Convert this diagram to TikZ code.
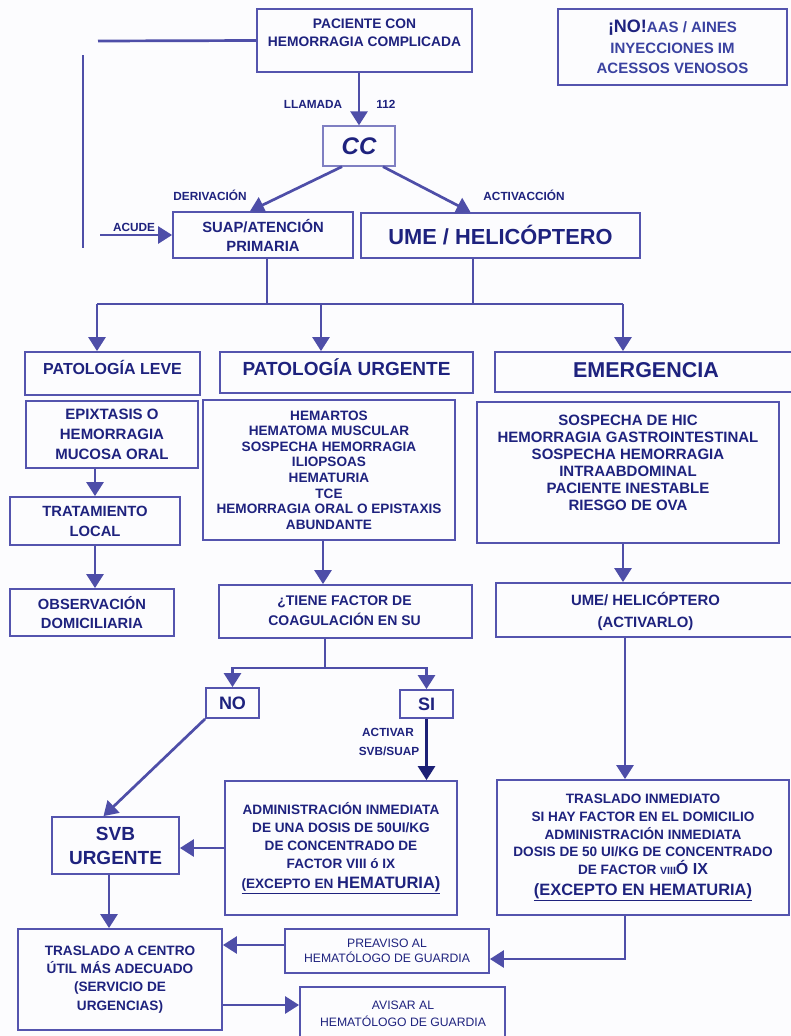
\documentclass[tikz,border=0pt]{standalone}
\usepackage{fontspec}
\setmainfont{Liberation Sans}
\usetikzlibrary{arrows.meta}

\definecolor{ink}{RGB}{30,34,126}
\definecolor{softink}{RGB}{58,66,160}
\definecolor{frame}{RGB}{84,84,174}
\definecolor{wire}{RGB}{78,78,168}
\definecolor{darkwire}{RGB}{28,32,118}
\definecolor{paper}{RGB}{252,252,254}

\newcommand{\fs}[2]{\fontsize{#1}{#2}\selectfont}

\tikzset{
  box/.style={draw=frame, line width=1.8pt, inner sep=0pt, align=center,
              text=ink, font=\bfseries},
  txt/.style={inner sep=0pt, align=center, text=ink, font=\bfseries},
  lbl/.style={inner sep=0pt, text=ink, font=\bfseries\fs{11.8}{14}},
  ln/.style={draw=wire, line width=2.7pt},
  arr/.style={ln, -{Triangle[length=14pt,width=17pt]}},
  darr/.style={draw=darkwire, line width=2.7pt, -{Triangle[length=14pt,width=17pt]}},
}

\begin{document}
\begin{tikzpicture}[x=1pt,y=-1pt]
\fill[paper] (0,0) rectangle (791,1036);
\useasboundingbox (0,0) rectangle (791,1036);
\clip (0,0) rectangle (791,1036);

% ---- top row ----
\node[box, minimum width=215pt, minimum height=63pt] (pac) at (364.5,40.5) {};
\node[txt, font=\bfseries\fs{13.8}{18}] (pact) at (364.5,33) {PACIENTE CON\\HEMORRAGIA COMPLICADA};

\node[box, minimum width=229pt, minimum height=76pt, text=softink, font=\bfseries\fs{15}{20.5}] (nob) at (672.5,47)
  {{\color{ink}\fs{18}{20.5}¡NO!}AAS / AINES\\INYECCIONES IM\\ACESSOS VENOSOS};

\node[box, draw=frame!75, line width=1.3pt, minimum width=72pt, minimum height=40pt,
      font=\bfseries\itshape\fs{24}{26}] (cc) at (359,146) {CC};

\node[box, minimum width=180pt, minimum height=46pt, font=\bfseries\fs{14.8}{19}] (suap) at (263,235)
  {SUAP/ATENCIÓN\\PRIMARIA};
\node[box, minimum width=279pt, minimum height=45pt, font=\bfseries\fs{21.8}{24}] (ume) at (500.5,235.5)
  {UME / HELICÓPTERO};

% ---- labels on the top connectors ----
\node[lbl] (llam) at (313,104) {LLAMADA};
\node[lbl] (num) at (386,104) {112};
\node[lbl] (deriv) at (210,195) {DERIVACIÓN};
\node[lbl] (activ) at (524,195) {ACTIVACCIÓN};
\node[lbl] (acude) at (134,227) {ACUDE};

% ---- second level ----
\node[box, minimum width=175pt, minimum height=43pt] (leve) at (112.5,373.5) {};
\node[txt, font=\bfseries\fs{16}{18}] (levet) at (112.5,367) {PATOLOGÍA LEVE};
\node[box, minimum width=253pt, minimum height=41pt] (urg) at (346.5,372.5) {};
\node[txt, font=\bfseries\fs{19}{21}] (urgt) at (346.5,367) {PATOLOGÍA URGENTE};
\node[box, minimum width=300pt, minimum height=40pt] (emer) at (645,372) {};
\node[txt, font=\bfseries\fs{21.5}{23}] (emert) at (646,370) {EMERGENCIA};

\node[box, minimum width=172pt, minimum height=67pt, font=\bfseries\fs{15}{20}] (epi) at (112,434.5)
  {EPIXTASIS O\\HEMORRAGIA\\MUCOSA ORAL};
\node[box, minimum width=252pt, minimum height=140pt, font=\bfseries\fs{13.6}{15.6}] (hem) at (329,470)
  {HEMARTOS\\HEMATOMA MUSCULAR\\SOSPECHA HEMORRAGIA\\ILIOPSOAS\\HEMATURIA\\TCE\\HEMORRAGIA ORAL O EPISTAXIS\\ABUNDANTE};
\node[box, minimum width=302pt, minimum height=141pt] (sosp) at (628,472.5) {};
\node[txt, font=\bfseries\fs{15}{17}] (sospt) at (628,462.5)
  {SOSPECHA DE HIC\\HEMORRAGIA GASTROINTESTINAL\\SOSPECHA HEMORRAGIA\\INTRAABDOMINAL\\PACIENTE INESTABLE\\RIESGO DE OVA};

\node[box, minimum width=170pt, minimum height=48pt, font=\bfseries\fs{14.8}{20}] (trat) at (95,521)
  {TRATAMIENTO\\LOCAL};
\node[box, minimum width=164pt, minimum height=47pt, font=\bfseries\fs{14.7}{19}] (obs) at (92,612.5)
  {OBSERVACIÓN\\DOMICILIARIA};
\node[box, minimum width=253pt, minimum height=53pt] (tiene) at (345.5,611.5) {};
\node[txt, font=\bfseries\fs{14}{20}] (tienet) at (344.5,610.5) {¿TIENE FACTOR DE\\COAGULACIÓN EN SU};
\node[box, minimum width=296pt, minimum height=54pt] (umeh) at (644,610) {};
\node[txt, font=\bfseries\fs{14.9}{22}] (umeht) at (645.5,611) {UME/ HELICÓPTERO\\(ACTIVARLO)};

% ---- decision ----
\node[box, minimum width=53pt, minimum height=30pt, font=\bfseries\fs{18}{20}] (no) at (232.5,703) {NO};
\node[box, minimum width=53pt, minimum height=28pt, font=\bfseries\fs{18}{20}] (si) at (426.5,704) {SI};
\node[lbl] (actv) at (388,732) {ACTIVAR};
\node[lbl] (svbs) at (389,751) {SVB/SUAP};

\node[box, minimum width=232pt, minimum height=134pt, font=\bfseries\fs{13.6}{18}] (adm) at (341,848)
  {ADMINISTRACIÓN INMEDIATA\\DE UNA DOSIS DE 50UI/KG\\DE CONCENTRADO DE\\FACTOR VIII ó IX\\[2pt]
   \underline{(EXCEPTO EN {\fs{16.5}{18}HEMATURIA)}}};
\node[box, minimum width=127pt, minimum height=57pt, font=\bfseries\fs{19}{24}] (svb) at (115.5,845.5)
  {SVB\\URGENTE};
\node[box, minimum width=292pt, minimum height=135pt, font=\bfseries\fs{13.6}{17.8}] (tras) at (643,847.5)
  {TRASLADO INMEDIATO\\SI HAY FACTOR EN EL DOMICILIO\\ADMINISTRACIÓN INMEDIATA\\DOSIS DE 50 UI/KG DE CONCENTRADO\\
   DE FACTOR {\fs{10.5}{12}VIII}{\fs{16}{18}Ó IX}\\[3pt]
   {\fs{16.4}{18}\underline{(EXCEPTO EN HEMATURIA)}}};

% ---- bottom ----
\node[box, minimum width=204pt, minimum height=44pt, font=\fs{12.2}{15}] (prea) at (387,951)
  {PREAVISO AL\\HEMATÓLOGO DE GUARDIA};
\node[box, minimum width=204pt, minimum height=101pt, font=\bfseries\fs{13.6}{18.3}] (tcen) at (120,979.5)
  {TRASLADO A CENTRO\\ÚTIL MÁS ADECUADO\\(SERVICIO DE\\URGENCIAS)};
\node[box, minimum width=205pt, minimum height=60pt] (avis) at (402.5,1017) {};
\node[txt, font=\fs{12.2}{17}] (avist) at (403,1013.5) {AVISAR AL\\HEMATÓLOGO DE GUARDIA};

% ---- free ends of the side bracket ----
\coordinate (lt) at (98,41);
\coordinate (vt) at (83,55);
\coordinate (vb) at (83,248);
\coordinate (ac) at (100,235);

% ---- connector helper points ----
\coordinate (ccl) at ([xshift=-17pt]cc.south);
\coordinate (ccr) at ([xshift=24pt]cc.south);
\coordinate (sul) at ([xshift=-13pt]suap.north);
\coordinate (umr) at ([xshift=-30pt]ume.north);
\coordinate (jl) at (97,304);
\coordinate (jm) at (321,304);
\coordinate (jr) at (623,304);
\coordinate (s1) at ([xshift=4pt]suap.south);
\coordinate (u1) at ([xshift=-27.5pt]ume.south);
\coordinate (h1) at ([xshift=-6pt]hem.south);
\coordinate (e1) at ([xshift=-21pt]umeh.north);
\coordinate (t1) at ([xshift=-20.5pt]tiene.south);
\coordinate (tj) at (325,668);
\coordinate (v1) at ([xshift=-12pt]svb.north);
\coordinate (s2) at ([xshift=-6.5pt]svb.south);
\coordinate (u2) at ([xshift=-19pt]umeh.south);
\coordinate (r1) at ([xshift=-18pt]tras.south);
\coordinate (r2) at ([yshift=-8pt]prea.east);
\coordinate (p1) at ([yshift=6pt]prea.west);
\coordinate (c1) at ([yshift=-25.5pt]tcen.east);

% ---- connectors ----
\draw[ln] (pac.west) -- (lt);
\draw[ln] (vt) -- (vb);
\draw[arr] (ac) -- (suap.west);
\draw[arr] (cc.north |- pac.south) -- (cc.north);
\draw[arr] (ccl) -- (sul);
\draw[arr] (ccr) -- (umr);

\draw[ln] (s1) -- (s1 |- jl);
\draw[ln] (u1) -- (u1 |- jr);
\draw[ln] (jl) -- (jr);
\draw[arr] (jl) -- (jl |- leve.north);
\draw[arr] (jm) -- (jm |- urg.north);
\draw[arr] (jr) -- (jr |- emer.north);

\draw[arr] (trat.north |- epi.south) -- (trat.north);
\draw[arr] (trat.south) -- (trat.south |- obs.north);
\draw[arr] (h1) -- (h1 |- tiene.north);
\draw[arr] (e1 |- sosp.south) -- (e1);

\draw[ln] (t1) -- (tj);
\draw[arr] (tj) -| (no.north);
\draw[arr] (tj) -| (si.north);
\draw[arr] (no.south west) -- (v1);
\draw[darr] (si.south) -- (si.south |- adm.north);
\draw[arr] (adm.west) -- (adm.west -| svb.east);
\draw[arr] (s2) -- (s2 |- tcen.north);
\draw[arr] (u2) -- (u2 |- tras.north);
\draw[arr] (r1) |- (r2);
\draw[arr] (p1) -- (p1 -| tcen.east);
\draw[arr] (c1) -- (c1 -| avis.west);
\end{tikzpicture}
\end{document}
